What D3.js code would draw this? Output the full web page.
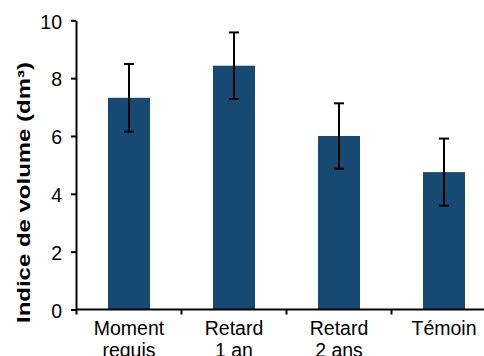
<!DOCTYPE html>
<html><head><meta charset="utf-8">
<script src="https://cdn.jsdelivr.net/npm/d3@7/dist/d3.min.js"></script>
<style>body{margin:0;background:#fff}svg{display:block}</style>
</head><body>
<svg id="c" width="484" height="356"></svg>
<script>
const categories = [["Moment","requis"],["Retard","1 an"],["Retard","2 ans"],["Témoin"]];
const values = [7.32, 8.43, 6.0, 4.75];
const errors = [1.17, 1.15, 1.13, 1.16];
const yTicks = [0, 2, 4, 6, 8, 10];
const yTitle = "Indice de volume (dm³)";

const svg = d3.select("#c");
const font = "Liberation Sans, Arial, sans-serif";
const keys = categories.map((d,i)=>i);
const x = d3.scaleBand().domain(keys).range([76.5, 496.5]).paddingInner(0.6).paddingOuter(0.3);
const xb = d3.scaleBand().domain(keys).range([76.5, 496.5]).padding(0);
const y = d3.scaleLinear().domain([0, 10]).range([309.5, 20.3]);

// bars
svg.append("g").selectAll("rect").data(values).join("rect")
  .attr("x", (d,i)=>x(i)).attr("width", x.bandwidth())
  .attr("y", d=>y(d)).attr("height", d=>y(0)-y(d))
  .attr("fill", "#174a72");

// error bars
const eb = svg.append("g").attr("stroke","#000").attr("stroke-width",2);
values.forEach((v,i)=>{
  const cx = x(i) + x.bandwidth()/2;
  eb.append("line").attr("x1",cx).attr("x2",cx).attr("y1",y(v+errors[i])).attr("y2",y(v-errors[i]));
  eb.append("line").attr("x1",cx-5).attr("x2",cx+5).attr("y1",y(v+errors[i])).attr("y2",y(v+errors[i]));
  eb.append("line").attr("x1",cx-5).attr("x2",cx+5).attr("y1",y(v-errors[i])).attr("y2",y(v-errors[i]));
});

// y axis
const ya = svg.append("g").attr("transform","translate(76,0)")
  .call(d3.axisLeft(y).tickValues(yTicks).tickSize(5).tickSizeOuter(0).tickPadding(9));
ya.select(".domain").attr("stroke","#000").attr("stroke-width",2);
ya.selectAll(".tick line").attr("stroke","#000").attr("stroke-width",2);
ya.selectAll(".tick text").attr("font-family",font).attr("font-size","19.5px").attr("fill","#000").attr("dy","0.4em");

// x axis
const xg = svg.append("g");
xg.append("line").attr("x1",76).attr("x2",484).attr("y1",y(0)).attr("y2",y(0)).attr("stroke","#000").attr("stroke-width",2);
const bounds = keys.map(k=>xb(k)).concat([xb.range()[1]]);
xg.selectAll("line.t").data(bounds).join("line").attr("class","t")
  .attr("x1",d=>d).attr("x2",d=>d).attr("y1",y(0)).attr("y2",y(0)+5)
  .attr("stroke","#000").attr("stroke-width",2);
const labels = xg.selectAll("text").data(categories).join("text")
  .attr("x",(d,i)=>xb(i)+xb.bandwidth()/2).attr("y",335)
  .attr("text-anchor","middle").attr("font-family",font).attr("font-size","19.5px").attr("fill","#000");
labels.each(function(d){
  const t = d3.select(this);
  d.forEach((line,j)=>{
    t.append("tspan").attr("x",t.attr("x")).attr("dy", j===0?0:22).text(line);
  });
});

// y title
svg.append("text").attr("transform","translate(30,192.5) rotate(-90)")
  .attr("text-anchor","middle").attr("font-family",font).attr("font-size","18px").attr("font-weight","bold")
  .attr("textLength",261).attr("lengthAdjust","spacingAndGlyphs")
  .text(yTitle);
</script>
</body></html>
